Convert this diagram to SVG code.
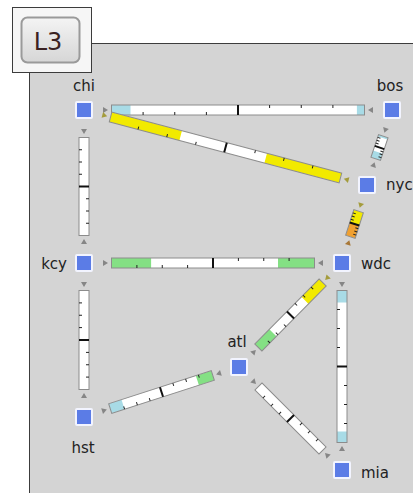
<svg xmlns="http://www.w3.org/2000/svg" width="413" height="493" viewBox="0 0 413 493">
<defs>
<style>
.bar{fill:#fff}
.bd{fill:none;stroke:#8c8c8c;stroke-width:1}
.tk{stroke:#222;stroke-width:1;fill:none}
.md{stroke:#111;stroke-width:2}
.ar{fill:#868686}
.ay{fill:#a49c3c}
.ao{fill:#a87838}
.cb{fill:#a8dbe6}
.cy{fill:#f2ea00}
.cg{fill:#84e084}
.co{fill:#f0a030}
.nd{fill:#5b7ce6;stroke:#f2f4ff;stroke-width:2}
.lbl{font-family:"DejaVu Sans",Verdana,sans-serif;font-size:15px;fill:#222}
</style>
<linearGradient id="btn" x1="0" y1="0" x2="0" y2="1">
<stop offset="0" stop-color="#f4f4f4"/>
<stop offset="1" stop-color="#d6d6d6"/>
</linearGradient>
</defs>
<rect x="0" y="0" width="413" height="493" fill="#fff"/>
<rect x="29.5" y="43.5" width="390" height="460" fill="#d4d4d4" stroke="#3c3c3c" stroke-width="1"/>
<g id="legend">
<rect x="12.5" y="7.5" width="79" height="65" fill="#f6f6f6" stroke="#3c3c3c"/>
<rect x="21.5" y="17.5" width="58" height="45" rx="6" fill="url(#btn)" stroke="#9a9a9a" stroke-width="2"/>
<text x="48" y="50" text-anchor="middle" font-family="DejaVu Sans,Verdana,sans-serif" font-size="24" fill="#3a2222">L3</text>
</g>
<g id="links">
<g id="chi-bos" transform="translate(238,110)">
<rect class="bar" x="-126.5" y="-5" width="253" height="10"/>
<rect class="cb" x="-126.5" y="-5" width="19" height="10"/>
<rect class="cb" x="118.9" y="-5" width="7.6" height="10"/>
<rect class="bd" x="-126.5" y="-5" width="253" height="10"/>
<path class="tk" d="M-94.9 5V2M-63.25 5V2M-31.6 5V2M31.6 -5V-2M63.25 -5V-2M94.9 -5V-2"/>
<line class="md" x1="0" y1="-5" x2="0" y2="5"/>
<polygon class="ar" points="-135,-3 -135,3 -130,0"/>
<polygon class="ar" points="135,-3 135,3 130,0"/>
</g>
<g id="chi-nyc" transform="translate(225.5,147.5) rotate(14.84)">
<rect class="bar" x="-118.9" y="-5" width="237.8" height="10"/>
<rect class="cy" x="-118.9" y="-5" width="72.5" height="10"/>
<rect class="cy" x="41.6" y="-5" width="77.3" height="10"/>
<rect class="bd" x="-118.9" y="-5" width="237.8" height="10"/>
<path class="tk" d="M-89.2 5V2M-59.45 5V2M-29.7 5V2M29.7 -5V-2M59.45 -5V-2M89.2 -5V-2"/>
<line class="md" x1="0" y1="-5" x2="0" y2="5"/>
<polygon class="ay" points="-127.4,-3 -127.4,3 -122.4,0"/>
<polygon class="ay" points="127.4,-3 127.4,3 122.4,0"/>
</g>
<g id="bos-nyc" transform="translate(379.5,147.5) rotate(108.43)">
<rect class="bar" x="-12" y="-5" width="24" height="10"/>
<rect class="cb" x="-12" y="-5" width="2" height="10"/>
<rect class="cb" x="4.8" y="-5" width="7.2" height="10"/>
<rect class="bd" x="-12" y="-5" width="24" height="10"/>
<path class="tk" d="M-9 5V2M-6 5V2M-3 5V2M3 -5V-2M6 -5V-2M9 -5V-2"/>
<line class="md" x1="0" y1="-5" x2="0" y2="5"/>
<polygon class="ar" points="-20.5,-3 -20.5,3 -15.5,0"/>
<polygon class="ar" points="20.5,-3 20.5,3 15.5,0"/>
</g>
<g id="nyc-wdc" transform="translate(354.5,224) rotate(107.77)">
<rect class="bar" x="-13.45" y="-5" width="26.9" height="10"/>
<rect class="cy" x="-13.45" y="-5" width="13.45" height="10"/>
<rect class="co" x="0" y="-5" width="13.45" height="10"/>
<rect class="bd" x="-13.45" y="-5" width="26.9" height="10"/>
<path class="tk" d="M-10.1 5V2M-6.7 5V2M-3.4 5V2M3.4 -5V-2M6.7 -5V-2M10.1 -5V-2"/>
<line class="md" x1="0" y1="-5" x2="0" y2="5"/>
<polygon class="ay" points="-21.95,-3 -21.95,3 -16.95,0"/>
<polygon class="ao" points="21.95,-3 21.95,3 16.95,0"/>
</g>
<g id="chi-kcy" transform="translate(84,186.5) rotate(90)">
<rect class="bar" x="-49" y="-5" width="98" height="10"/>
<rect class="bd" x="-49" y="-5" width="98" height="10"/>
<path class="tk" d="M-36.75 5V2M-24.5 5V2M-12.25 5V2M12.25 -5V-2M24.5 -5V-2M36.75 -5V-2"/>
<line class="md" x1="0" y1="-5" x2="0" y2="5"/>
<polygon class="ar" points="-57.5,-3 -57.5,3 -52.5,0"/>
<polygon class="ar" points="57.5,-3 57.5,3 52.5,0"/>
</g>
<g id="kcy-wdc" transform="translate(213,263)">
<rect class="bar" x="-101.5" y="-5" width="203" height="10"/>
<rect class="cg" x="-101.5" y="-5" width="39.6" height="10"/>
<rect class="cg" x="65" y="-5" width="36.5" height="10"/>
<rect class="bd" x="-101.5" y="-5" width="203" height="10"/>
<path class="tk" d="M-76.1 5V2M-50.75 5V2M-25.4 5V2M25.4 -5V-2M50.75 -5V-2M76.1 -5V-2"/>
<line class="md" x1="0" y1="-5" x2="0" y2="5"/>
<polygon class="ar" points="-110,-3 -110,3 -105,0"/>
<polygon class="ar" points="110,-3 110,3 105,0"/>
</g>
<g id="kcy-hst" transform="translate(84,340) rotate(90)">
<rect class="bar" x="-49.5" y="-5" width="99" height="10"/>
<rect class="bd" x="-49.5" y="-5" width="99" height="10"/>
<path class="tk" d="M-37.1 5V2M-24.75 5V2M-12.4 5V2M12.4 -5V-2M24.75 -5V-2M37.1 -5V-2"/>
<line class="md" x1="0" y1="-5" x2="0" y2="5"/>
<polygon class="ar" points="-58,-3 -58,3 -53,0"/>
<polygon class="ar" points="58,-3 58,3 53,0"/>
</g>
<g id="wdc-mia" transform="translate(342,366.5) rotate(90)">
<rect class="bar" x="-76" y="-5" width="152" height="10"/>
<rect class="cb" x="-76" y="-5" width="12" height="10"/>
<rect class="cb" x="65" y="-5" width="11" height="10"/>
<rect class="bd" x="-76" y="-5" width="152" height="10"/>
<path class="tk" d="M-57 5V2M-38 5V2M-19 5V2M19 -5V-2M38 -5V-2M57 -5V-2"/>
<line class="md" x1="0" y1="-5" x2="0" y2="5"/>
<polygon class="ar" points="-84.5,-3 -84.5,3 -79.5,0"/>
<polygon class="ar" points="84.5,-3 84.5,3 79.5,0"/>
</g>
<g id="wdc-atl" transform="translate(290.5,315) rotate(134.72)">
<rect class="bar" x="-45.7" y="-5" width="91.4" height="10"/>
<rect class="cy" x="-45.7" y="-5" width="25.1" height="10"/>
<rect class="cg" x="25.1" y="-5" width="20.6" height="10"/>
<rect class="bd" x="-45.7" y="-5" width="91.4" height="10"/>
<path class="tk" d="M-34.3 5V2M-22.85 5V2M-11.4 5V2M11.4 -5V-2M22.85 -5V-2M34.3 -5V-2"/>
<line class="md" x1="0" y1="-5" x2="0" y2="5"/>
<polygon class="ay" points="-54.2,-3 -54.2,3 -49.2,0"/>
<polygon class="ar" points="54.2,-3 54.2,3 49.2,0"/>
</g>
<g id="atl-hst" transform="translate(161.5,392) rotate(162.12)">
<rect class="bar" x="-53.9" y="-5" width="107.8" height="10"/>
<rect class="cg" x="-53.9" y="-5" width="16.2" height="10"/>
<rect class="cb" x="40.4" y="-5" width="13.5" height="10"/>
<rect class="bd" x="-53.9" y="-5" width="107.8" height="10"/>
<path class="tk" d="M-40.4 5V2M-26.95 5V2M-13.5 5V2M13.5 -5V-2M26.95 -5V-2M40.4 -5V-2"/>
<line class="md" x1="0" y1="-5" x2="0" y2="5"/>
<polygon class="ar" points="-62.4,-3 -62.4,3 -57.4,0"/>
<polygon class="ar" points="62.4,-3 62.4,3 57.4,0"/>
</g>
<g id="atl-mia" transform="translate(290.5,418.5) rotate(45)">
<rect class="bar" x="-45.3" y="-5" width="90.6" height="10"/>
<rect class="bd" x="-45.3" y="-5" width="90.6" height="10"/>
<path class="tk" d="M-34 5V2M-22.65 5V2M-11.3 5V2M11.3 -5V-2M22.65 -5V-2M34 -5V-2"/>
<line class="md" x1="0" y1="-5" x2="0" y2="5"/>
<polygon class="ar" points="-53.8,-3 -53.8,3 -48.8,0"/>
<polygon class="ar" points="53.8,-3 53.8,3 48.8,0"/>
</g>
</g>
<g id="chi"><rect class="nd" x="76" y="102" width="16" height="16" rx="1"/><text class="lbl" x="84" y="91" text-anchor="middle">chi</text></g>
<g id="bos"><rect class="nd" x="384" y="102" width="16" height="16" rx="1"/><text class="lbl" x="390" y="91" text-anchor="middle">bos</text></g>
<g id="nyc"><rect class="nd" x="359" y="177" width="16" height="16" rx="1"/><text class="lbl" x="386" y="190">nyc</text></g>
<g id="wdc"><rect class="nd" x="334" y="255" width="16" height="16" rx="1"/><text class="lbl" x="361" y="269">wdc</text></g>
<g id="kcy"><rect class="nd" x="76" y="255" width="16" height="16" rx="1"/><text class="lbl" x="67" y="269" text-anchor="end">kcy</text></g>
<g id="atl"><rect class="nd" x="231" y="359" width="16" height="16" rx="1"/><text class="lbl" x="237" y="347" text-anchor="middle">atl</text></g>
<g id="hst"><rect class="nd" x="76" y="409" width="16" height="16" rx="1"/><text class="lbl" x="83" y="453" text-anchor="middle">hst</text></g>
<g id="mia"><rect class="nd" x="334" y="462" width="16" height="16" rx="1"/><text class="lbl" x="361" y="478">mia</text></g>
</svg>
